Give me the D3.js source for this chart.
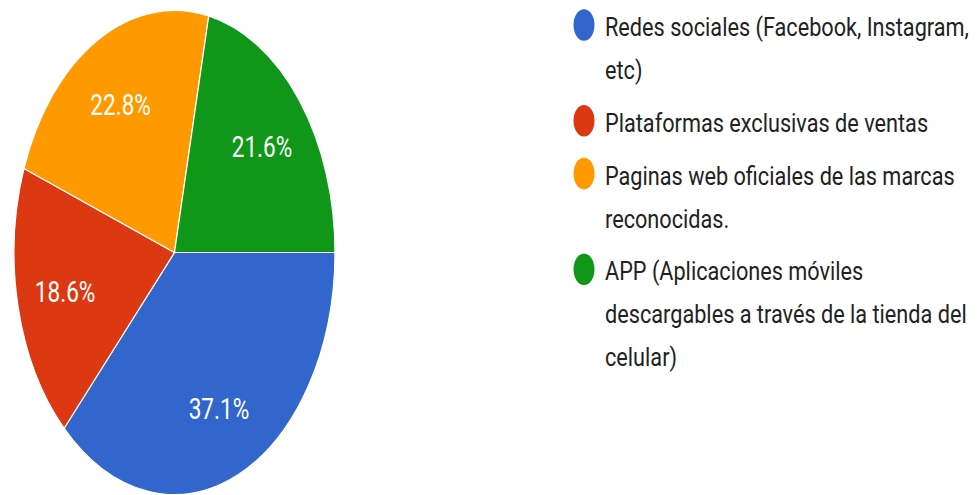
<!DOCTYPE html>
<html>
<head>
<meta charset="utf-8">
<script src="https://cdn.jsdelivr.net/npm/d3@7"></script>
<style>
  body { margin: 0; background: #fff; }
  svg { display: block; font-family: Roboto, Arial, sans-serif; }
</style>
</head>
<body>
<div id="chart"></div>
<script>
// data
const categories = [
    "Redes sociales (Facebook, Instagram, etc)",
    "Plataformas exclusivas de ventas",
    "Paginas web oficiales de las marcas reconocidas.",
    "APP (Aplicaciones móviles descargables a través de la tienda del celular)"
];
// legend lines as wrapped in the image
const legendLines = [
    ["Redes sociales (Facebook, Instagram,", "etc)"],
    ["Plataformas exclusivas de ventas"],
    ["Paginas web oficiales de las marcas", "reconocidas."],
    ["APP (Aplicaciones móviles", "descargables a través de la tienda del", "celular)"]
];
const values = [37.1, 18.6, 22.8, 21.6];
const colors = ["#3366cc", "#dc3912", "#ff9900", "#109618"];

const W = 979, H = 495;
// the picture is stretched vertically
const sy = 1.508;
const cx = 174.5, cy = 252.5, radius = 160.5;

const svg = d3.select("#chart").append("svg")
    .attr("width", W)
    .attr("height", H);

const pieG = svg.append("g")
    .attr("transform", `translate(${cx},${cy}) scale(1,${sy})`);

// pie starts at 3 o'clock and goes clockwise
const pie = d3.pie()
    .sort(null)
    .value(d => d)
    .startAngle(Math.PI / 2)
    .endAngle(Math.PI / 2 + 2 * Math.PI);

const arcs = pie(values);

const arc = d3.arc().innerRadius(0).outerRadius(radius);
const labelArc = d3.arc().innerRadius(radius * 0.7).outerRadius(radius * 0.7);

pieG.selectAll("path.slice")
    .data(arcs)
    .enter().append("path")
    .attr("class", "slice")
    .attr("d", arc)
    .attr("fill", (d, i) => colors[i])
    .attr("stroke", "#fff")
    .attr("stroke-width", 1.2)
    .attr("vector-effect", "non-scaling-stroke");

pieG.selectAll("text.lbl")
    .data(arcs)
    .enter().append("text")
    .attr("class", "lbl")
    .attr("transform", d => `translate(${labelArc.centroid(d)}) scale(1.13,1)`)
    .attr("text-anchor", "middle")
    .attr("dy", "0.36em")
    .attr("fill", "#fff")
    .style("font-size", "20px")
    .text(d => d.data.toFixed(1) + "%");

// legend
const legG = svg.append("g")
    .attr("transform", `scale(1,${sy})`);

const firstBase = 23.9, lineStep = 28.5, itemStep = 35;
let base = firstBase;
legendLines.forEach((lines, i) => {
    const g = legG.append("g").attr("class", "legend-item");
    g.append("circle")
        .attr("cx", 584)
        .attr("cy", base - 7.3)
        .attr("r", 10.5)
        .attr("fill", colors[i]);
    const t = g.append("text")
        .attr("transform", `translate(605,${base}) scale(1.24,1)`)
        .attr("fill", "#222")
        .style("font-size", "17.5px");
    lines.forEach((ln, j) => {
        t.append("tspan")
            .attr("x", 0)
            .attr("y", j * lineStep)
            .text(ln);
    });
    base += (lines.length - 1) * lineStep + itemStep;
});
</script>
</body>
</html>
